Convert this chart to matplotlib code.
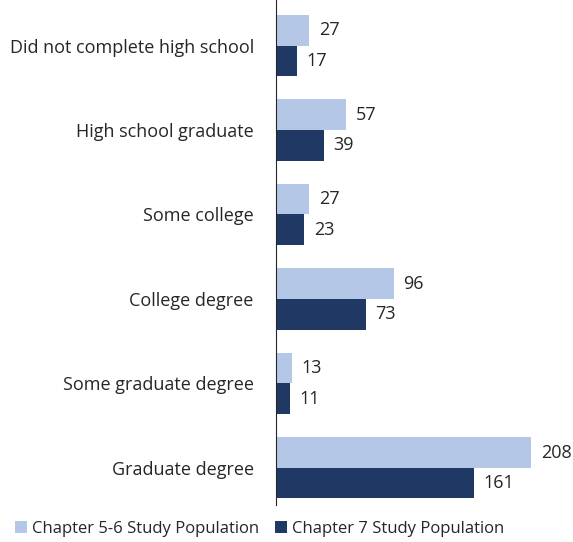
import numpy as np
import matplotlib.pyplot as plt

plt.rcParams['font.family'] = ['Open Sans', 'DejaVu Sans']

categories = ["Did not complete high school", "High school graduate", "Some college",
              "College degree", "Some graduate degree", "Graduate degree"]
ch56 = [27, 57, 27, 96, 13, 208]
ch7 = [17, 39, 23, 73, 11, 161]
labels = ["Chapter 5-6 Study Population", "Chapter 7 Study Population"]

light = "#B4C7E7"
dark = "#1F3864"

fig = plt.figure(figsize=(5.73, 5.42), dpi=100)
ax = fig.add_axes([276/573, 1 - 505/542, 1 - 276/573, 505/542])

y = np.arange(len(categories))
h = 0.362
b1 = ax.barh(y - h/2, ch56, height=h, color=light, label=labels[0])
b2 = ax.barh(y + h/2, ch7, height=h, color=dark, label=labels[1])

for bars, vals in ((b1, ch56), (b2, ch7)):
    for bar, v in zip(bars, vals):
        ax.annotate(str(v), (v, bar.get_y() + bar.get_height()/2),
                    xytext=(7, 0), textcoords="offset points",
                    va="center", ha="left", fontsize=13, color="#262626")

ax.set_ylim(5.44, -0.54)
ax.set_xlim(0, 242)
ax.set_yticks(y)
ax.set_yticklabels(categories, fontsize=13, color="#262626")
ax.tick_params(axis="y", length=0, pad=16)
ax.set_xticks([])
for s in ("top", "right", "bottom"):
    ax.spines[s].set_visible(False)
ax.spines["left"].set_color("#262626")

fig.legend(handles=[b1, b2], labels=labels, loc="lower left",
           bbox_to_anchor=(0.0, -0.018), ncol=2, frameon=False,
           fontsize=12, handlelength=0.7, handleheight=0.7,
           handletextpad=0.3, columnspacing=1.0, labelcolor="#262626")

fig.savefig("out.png", dpi=100)
